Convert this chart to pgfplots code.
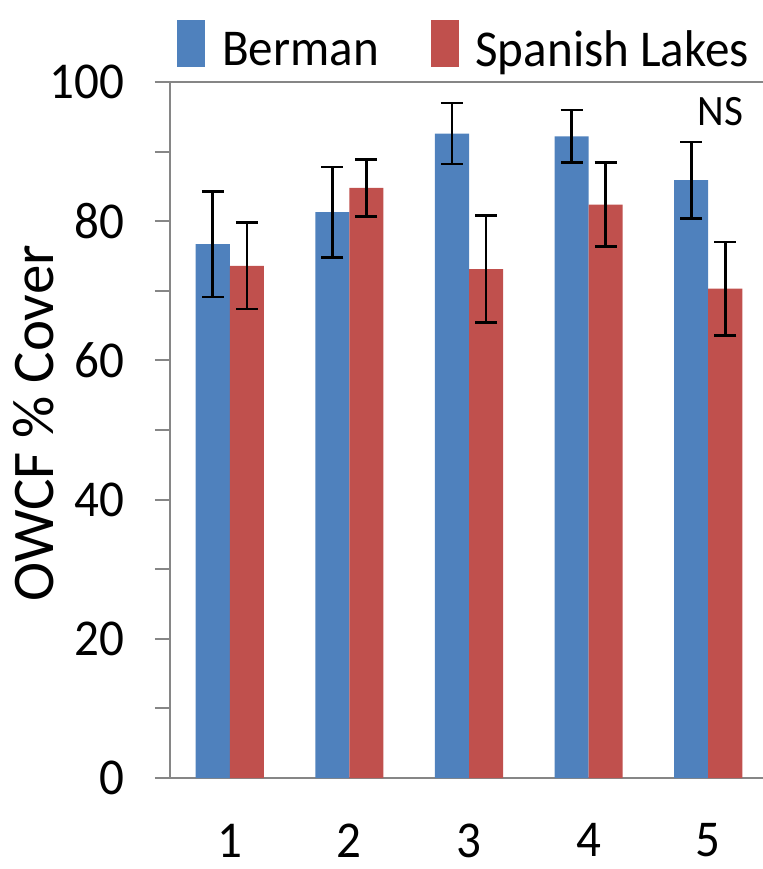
\documentclass[border=0pt]{standalone}
\usepackage{pgfplots}
\pgfplotsset{compat=1.18}
\usepackage{pgfplotstable}
\usepackage{fontspec}
\setmainfont{Carlito}[FakeStretch=0.95]
\newfontfamily\labelfont{Carlito}
\definecolor{bblue}{HTML}{4F81BD}
\definecolor{sred}{HTML}{C0504D}
\definecolor{axgray}{HTML}{868686}
\pgfplotstableread{
x y e
1 76.7 7.6
2 81.3 6.5
3 92.6 4.4
4 92.2 3.8
5 85.9 5.5
}\berman
\pgfplotstableread{
x y e
1 73.6 6.2
2 84.8 4.1
3 73.1 7.7
4 82.4 6.0
5 70.3 6.7
}\spanish
\begin{document}
\begin{tikzpicture}
\begin{axis}[
  scale only axis, width=177.9pt, height=208.8pt,
  xmin=0.5, xmax=5.458, ymin=0, ymax=100,
  ybar=0pt, bar width=0.285,
  axis x line*=bottom, axis y line*=left,
  axis line style={-, draw=axgray, line width=0.6pt},
  xtick={1,2,3,4,5}, xticklabels={1,2,3,4,5},
  x tick style={draw=none},
  xticklabel style={yshift=-5.7pt},
  extra x ticks={0.5,1.5,2.5,3.5,4.5}, extra x tick labels={},
  extra x tick style={tick style={draw=axgray, line width=0.6pt}, major tick length=5.7pt, tick align=outside},
  ytick={0,10,...,100}, yticklabels={0,,20,,40,,60,,80,,100},
  yticklabel style={xshift=-5.7pt},
  y tick style={draw=axgray, line width=0.6pt},
  tick align=outside, major tick length=4.5pt,
  extra y ticks={100}, extra y tick labels={},
  extra y tick style={grid=major, major grid style={draw=axgray, line width=0.6pt}},
  tick label style={font=\fontsize{15.5}{18}\selectfont},
  /pgf/number format/assume math mode=true,
  ylabel={OWCF \% Cover},
  every axis y label/.style={at={(axis description cs:-0.2306,0.51)}, rotate=90, anchor=center, font=\labelfont\fontsize{17.7}{21}\selectfont},
  legend style={draw=none, fill=none, legend columns=2, at={(0.5,1)}, anchor=center, yshift=9.9pt,
    font=\fontsize{15.5}{18}\selectfont,
    /tikz/every odd column/.append style={column sep=3pt},
    /tikz/every even column/.append style={column sep=13.6pt}},
  legend image code/.code={\fill[#1, draw=none] (0pt,-4.8pt) rectangle (8.4pt,9.3pt);},
]
\addplot[fill=bblue, draw=none,
  error bars/.cd, y dir=both, y explicit,
  error bar style={black, line width=0.8pt},
  error mark options={rotate=90, mark size=3.3pt, black, line width=0.8pt}]
  table[x=x, y=y, y error=e] {\berman};
\addlegendentry{Berman}
\addplot[fill=sred, draw=none,
  error bars/.cd, y dir=both, y explicit,
  error bar style={black, line width=0.8pt},
  error mark options={rotate=90, mark size=3.3pt, black, line width=0.8pt}]
  table[x=x, y=y, y error=e] {\spanish};
\addlegendentry{Spanish Lakes}
\node[font=\fontsize{13}{15}\selectfont] at (axis cs:5.1,95.7) {NS};
\end{axis}
\pgfresetboundingbox
\path[use as bounding box] (-51pt,-27.3pt) rectangle (177.9pt,233.4pt);
\end{tikzpicture}
\end{document}
